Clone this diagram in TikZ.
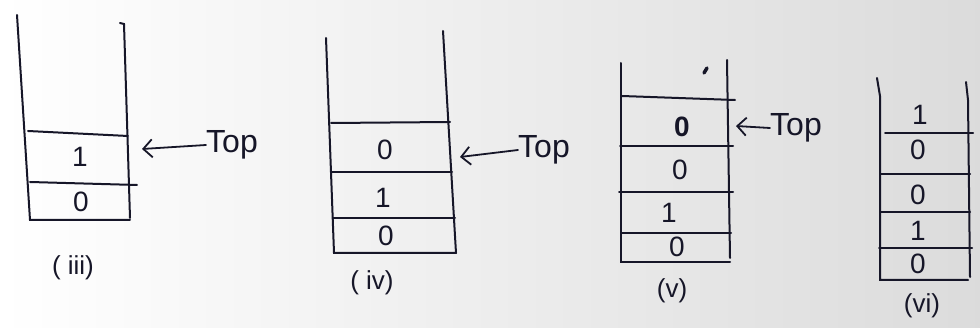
\documentclass[tikz,border=0pt]{standalone}
\usepackage{fontspec}
\setmainfont{Liberation Sans}
\usetikzlibrary{arrows.meta}
\definecolor{ink}{RGB}{22,22,40}
\tikzset{
  wall/.style={draw=ink, line width=2pt, line cap=round},
  digit/.style={text=ink, font=\fontsize{28}{28}\selectfont, inner sep=0pt},
  toplabel/.style={text=ink, font=\fontsize{32}{32}\selectfont, inner sep=0pt, anchor=west},
  caption/.style={text=ink, font=\fontsize{26}{26}\selectfont, inner sep=0pt},
  pointer/.style={draw=ink, line width=1.8pt, line cap=round,
    -{Straight Barb[length=9pt,width=18pt,line width=1.8pt]}}
}
\begin{document}
\begin{tikzpicture}[x=1pt,y=-1pt]
  \useasboundingbox (0,0) rectangle (980,328);
  \shade[left color=white, right color=black!14] (0,0) rectangle (980,328);

  % ---- stack (iii)
  \draw[wall] (17,15) -- (30,220) -- (130,220);
  \draw[wall] (120,23) -- (124,24) -- (130,218);
  \draw[wall] (28,131) -- (128,136);
  \draw[wall] (30,182) -- (137,185);
  \node[digit] (s3a) at (80,157) {1};
  \node[digit] (s3b) at (81,202) {0};
  \node[toplabel] (top3) at (206,145) {Top};
  \coordinate (tip3) at (142,149);
  \draw[pointer] (top3.west) -- (tip3);
  \node[caption] (cap3) at (73,268) {( iii)};

  % ---- stack (iv)
  \draw[wall] (326,38) -- (334,253) -- (456,253);
  \draw[wall] (443,31) -- (456,253);
  \draw[wall] (331,123) -- (450,122);
  \draw[wall] (332,172) -- (452,172);
  \draw[wall] (333,218) -- (455,218);
  \node[digit] (s4a) at (385,150) {0};
  \node[digit] (s4b) at (383,198) {1};
  \node[digit] (s4c) at (386,236) {0};
  \node[toplabel] (top4) at (518,150) {Top};
  \coordinate (tip4) at (460,157);
  \draw[pointer] (top4.west) -- (tip4);
  \node[caption] (cap4) at (372,283) {( iv)};

  % ---- stack (v)
  \draw[wall] (621,63) -- (621,262) -- (730,262);
  \draw[wall] (727,60) -- (730,258);
  \draw[wall] (622,96) -- (735,100);
  \draw[wall] (620,146) -- (733,146);
  \draw[wall] (619,192) -- (733,192);
  \draw[wall] (621,233) -- (731,233);
  \draw[ink, line width=3.5pt, line cap=round] (704,73) -- (707,68);
  \node[digit, font=\bfseries\fontsize{28}{28}\selectfont] (s5a) at (682,127) {0};
  \node[digit] (s5b) at (680,170) {0};
  \node[digit] (s5c) at (669,213) {1};
  \node[digit] (s5d) at (677,247) {0};
  \node[toplabel] (top5) at (770,128) {Top};
  \coordinate (tip5) at (736,126);
  \draw[pointer] (top5.west) -- (tip5);
  \node[caption] (cap5) at (672,291) {(v)};

  % ---- stack (vi)
  \draw[wall] (877,78) -- (880,96) -- (880,280) -- (968,280);
  \draw[wall] (966,82) -- (968,100) -- (970,277);
  \draw[wall] (885,133) -- (973,133);
  \draw[wall] (880,174) -- (970,174);
  \draw[wall] (880,212) -- (970,212);
  \draw[wall] (879,248) -- (972,248);
  \node[digit] (s6a) at (920,115) {1};
  \node[digit] (s6b) at (918,150) {0};
  \node[digit] (s6c) at (918,195) {0};
  \node[digit] (s6d) at (918,231) {1};
  \node[digit] (s6e) at (918,264) {0};
  \node[caption] (cap6) at (922,306) {(vi)};
\end{tikzpicture}
\end{document}
